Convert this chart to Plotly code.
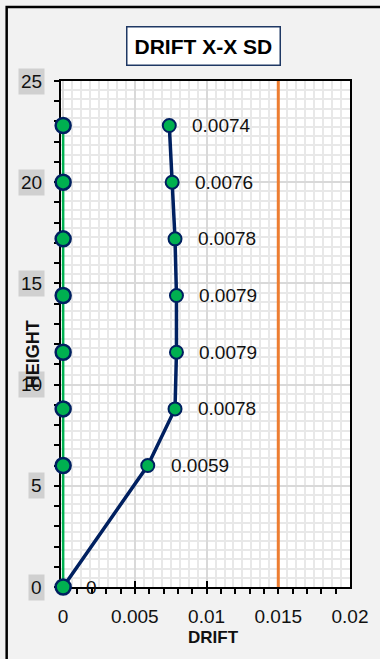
import plotly.graph_objects as go

# ---- data ----
heights = [0, 6.0, 8.8, 11.6, 14.4, 17.2, 20.0, 22.8]
drift = [0, 0.0059, 0.0078, 0.0079, 0.0079, 0.0078, 0.0076, 0.0074]
base_drift = [0, 0, 0, 0, 0, 0, 0, 0]
limit_drift = [0.015, 0.015]
limit_heights = [0, 25]
x_tick_vals = [0, 0.005, 0.01, 0.015, 0.02]
x_tick_text = ["0", "0.005", "0.01", "0.015", "0.02"]
y_tick_vals = [0, 5, 10, 15, 20, 25]
y_tick_text = ["0", "5", "10", "15", "20", "25"]
title_text = "DRIFT X-X SD"
x_title = "DRIFT"
y_title = "HEIGHT"

NAVY = "#002060"
GREEN = "#00B050"
ORANGE = "#ED7D31"
FONT = "Liberation Sans"
TXT = "#111111"
X_RANGE = [-0.00015, 0.02]
Y_RANGE = [0, 25]

fig = go.Figure()

fig.add_trace(go.Scatter(x=limit_drift, y=limit_heights, mode="lines",
                         line=dict(color=ORANGE, width=3), hoverinfo="skip",
                         showlegend=False))
fig.add_trace(go.Scatter(x=drift, y=heights, mode="lines+markers",
                         line=dict(color=NAVY, width=3.5), cliponaxis=False,
                         marker=dict(size=13, color=GREEN, line=dict(color=NAVY, width=2)),
                         showlegend=False))
fig.add_trace(go.Scatter(x=base_drift, y=heights, mode="lines+markers",
                         line=dict(color=GREEN, width=2.5), cliponaxis=False,
                         marker=dict(size=15, color=GREEN, line=dict(color=NAVY, width=2.5)),
                         showlegend=False))
# carrier trace for the overlay axes (ticks, labels, major grid)
fig.add_trace(go.Scatter(x=[None], y=[None], xaxis="x2", yaxis="y2",
                         showlegend=False, hoverinfo="skip"))

annotations = []
# data labels
for xv, yv in zip(drift, heights):
    annotations.append(dict(x=xv, y=yv, xref="x", yref="y", text=f"{xv:g}",
                            showarrow=False, xanchor="left", yanchor="middle",
                            xshift=21, font=dict(family=FONT, size=19, color=TXT)))
# y tick labels with grey highlight
for v, t in zip(y_tick_vals, y_tick_text):
    annotations.append(dict(x=-0.0548, y=v, xref="paper", yref="y", text=t,
                            showarrow=False, xanchor="right", yanchor="middle",
                            bgcolor="#D0D0D0", borderpad=2,
                            font=dict(family=FONT, size=19, color=TXT)))
# title box
annotations.append(dict(x=0.493, y=1.069, xref="paper", yref="paper",
                        text=f"<b>{title_text}</b>", showarrow=False,
                        xanchor="center", yanchor="middle",
                        bgcolor="white", bordercolor="#1F3864", borderwidth=1.5, borderpad=7,
                        font=dict(family=FONT, size=21, color="black")))
# axis titles
annotations.append(dict(x=0.527, y=-0.1, xref="paper", yref="paper",
                        text=f"<b>{x_title}</b>", showarrow=False,
                        xanchor="center", yanchor="middle",
                        font=dict(family=FONT, size=17, color=TXT)))
annotations.append(dict(x=-0.0959, y=0.4605, xref="paper", yref="paper",
                        text=f"<b>{y_title}</b>", showarrow=False, textangle=-90,
                        xanchor="center", yanchor="middle",
                        font=dict(family=FONT, size=18, color=TXT)))

fig.update_layout(
    width=380, height=659, autosize=False,
    margin=dict(l=61, r=27, t=81, b=72, pad=0),
    paper_bgcolor="#F2F2F2", plot_bgcolor="white",
    showlegend=False,
    annotations=annotations,
    xaxis=dict(range=X_RANGE, showgrid=True, gridcolor="#E8E8E8", gridwidth=2,
               dtick=0.000625, tick0=0, showticklabels=False, ticks="",
               showline=False, zeroline=False, fixedrange=True),
    yaxis=dict(range=Y_RANGE, showgrid=True, gridcolor="#E8E8E8", gridwidth=2,
               dtick=5 / 11, tick0=0, showticklabels=False, ticks="",
               showline=False, zeroline=False, fixedrange=True),
    xaxis2=dict(overlaying="x", anchor="y2", range=X_RANGE,
                tickmode="array", tickvals=x_tick_vals, ticktext=x_tick_text,
                showgrid=True, gridcolor="#D9D9D9", gridwidth=2,
                ticks="inside", ticklen=6, tickwidth=2, tickcolor="black",
                minor=dict(dtick=0.001, tick0=0, ticks="outside", ticklen=5,
                           tickwidth=2, tickcolor="black", showgrid=False),
                showline=True, linecolor="black", linewidth=2, mirror=True,
                zeroline=False, layer="below traces", fixedrange=True,
                tickfont=dict(family=FONT, size=19, color=TXT),
                ticklabelstandoff=11),
    yaxis2=dict(overlaying="y", anchor="x2", range=Y_RANGE,
                tickmode="array", tickvals=y_tick_vals, showticklabels=False,
                showgrid=True, gridcolor="#D9D9D9", gridwidth=2,
                ticks="outside", ticklen=5, tickwidth=2, tickcolor="black",
                minor=dict(dtick=1, tick0=0, ticks="outside", ticklen=5,
                           tickwidth=2, tickcolor="black", showgrid=False),
                showline=True, linecolor="black", linewidth=2, mirror=True,
                zeroline=False, layer="below traces", fixedrange=True),
    shapes=[dict(type="rect", xref="paper", yref="paper",
                 x0=-0.188, x1=1.3, y0=-0.3, y1=1.146,
                 line=dict(color="black", width=2.5), fillcolor="rgba(0,0,0,0)")],
)

fig.write_html("out.html", config={"displayModeBar": False})
